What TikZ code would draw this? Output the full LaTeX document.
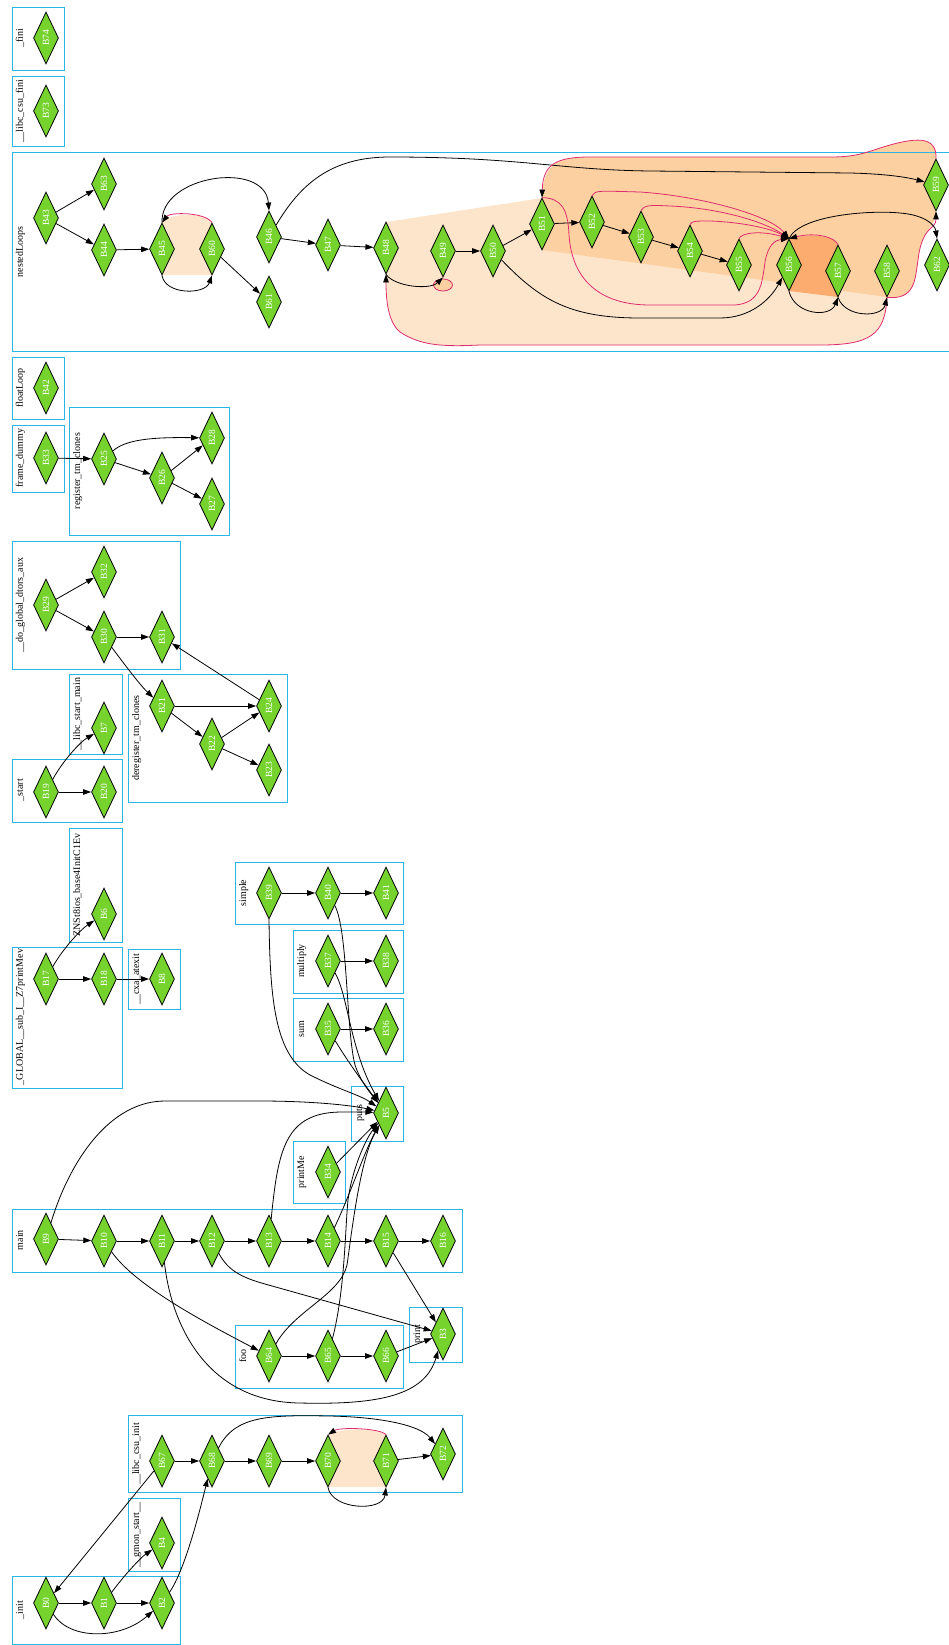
\documentclass[tikz,border=0pt]{standalone}
\usepackage{fontspec}
\setmainfont{Liberation Serif}
\usetikzlibrary{shapes.geometric,arrows.meta}
\definecolor{nodegreen}{RGB}{118,211,46}
\definecolor{clusblue}{RGB}{41,182,230}
\definecolor{crim}{RGB}{222,44,110}
\definecolor{lightfill}{RGB}{253,229,204}
\definecolor{medfill}{RGB}{252,208,160}
\definecolor{darkfill}{RGB}{251,172,110}
\tikzset{
  bb/.style={diamond, draw=black, line width=0.8pt, fill=nodegreen, minimum width=25pt, minimum height=52pt, inner sep=0pt, text=white, font=\fontsize{9.5}{9.5}\selectfont},
  clus/.style={draw=clusblue, line width=0.9pt},
  clab/.style={rotate=90, anchor=base, inner sep=0pt, font=\fontsize{10}{10}\selectfont},
  edge/.style={draw=black, line width=0.8pt, -{Triangle[length=8pt,width=5.5pt]}},
  back/.style={draw=crim, line width=0.8pt, -{Triangle[length=8pt,width=5.5pt,color=black]}},
}
\newcommand\mkbb[3]{\node[bb] (#1) at (#2,#3) {\rotatebox{90}{#1}};}
\newcommand\mkcl[7]{\draw[clus] (#2,#3) rectangle (#4,#5); \node[clab] (#1) at ({#2+11},#6) {#7};}
\begin{document}
\begin{tikzpicture}[x=1pt,y=-1pt]
\useasboundingbox (0,0) rectangle (948,1645);
% ---------- loop fills ----------
\fill[lightfill] (386,222) -- (542,198) -- (887,297) .. controls (885,335) and (870,345) .. (820,345) -- (480,345) .. controls (440,347) and (420,345) .. (400,332) .. controls (388,322) and (386,300) .. (386,274) -- cycle;
\fill[medfill] (542,198) .. controls (543,165) and (555,157) .. (590,157) -- (830,157) .. controls (850,157) and (860,155) .. (880,148) .. controls (915,137) and (937,135) .. (936,159) -- (936,211) .. controls (936,230) and (922,225) .. (918,260) .. controls (915,280) and (915,300) .. (887,297) -- (542,250) -- cycle;
\fill[darkfill] (789,239) .. controls (815,232) and (835,237) .. (838,245) -- (838,297) -- (789,291) -- cycle;
\fill[lightfill] (162,223) .. controls (170,212) and (205,212) .. (212,223) -- (212,275) -- (162,275) -- cycle;
\fill[lightfill] (328,1435) .. controls (340,1427) and (380,1428) .. (386,1435) -- (386,1487) -- (328,1487) -- cycle;
\draw[crim, line width=0.8pt, fill=medfill] (443,285) ellipse [x radius=9.5pt, y radius=6pt];
% ---------- clusters ----------
\mkcl{L74}{12}{7}{64}{70}{38}{\_fini}
\mkcl{L73}{12}{76}{64}{146}{111}{\_\_libc\_csu\_fini}
\mkcl{Lnl}{12}{152}{970}{351}{252}{nestedLoops}
\mkcl{Lfl}{12}{357}{64}{419}{388}{floatLoop}
\mkcl{Lfd}{12}{425}{64}{492}{458}{frame\_dummy}
\mkcl{Lrt}{69}{407}{229}{535}{471}{register\_tm\_clones}
\mkcl{Ldg}{12}{541}{180}{669}{605}{\_\_do\_global\_dtors\_aux}
\mkcl{Lls}{69}{674}{122}{754}{714}{\_\_libc\_start\_main}
\mkcl{Ldt}{128}{674}{287}{802}{738}{deregister\_tm\_clones}
\mkcl{Lst}{12}{759}{122}{822}{790}{\_start}
\mkcl{Lzn}{69}{828}{122}{942}{885}{ZNSt8ios\_base4InitC1Ev}
\mkcl{Lgl}{12}{947}{122}{1088}{1017}{\_GLOBAL\_\_sub\_I\_\_Z7printMev}
\mkcl{Lcx}{128}{949}{180}{1009}{979}{\_\_cxa\_atexit}
\mkcl{Lsi}{235}{862}{403}{924}{893}{simple}
\mkcl{Lmu}{293}{930}{403}{993}{961}{multiply}
\mkcl{Lsu}{293}{998}{403}{1061}{1029}{sum}
\mkcl{Lpu}{351}{1086}{403}{1141}{1113}{puts}
\mkcl{Lpm}{293}{1141}{345}{1203}{1172}{printMe}
\mkcl{Lma}{12}{1209}{462}{1272}{1240}{main}
\mkcl{Lpr}{409}{1307}{462}{1362}{1334}{print}
\mkcl{Lfo}{235}{1325}{403}{1388}{1356}{foo}
\mkcl{Lci}{128}{1415}{462}{1492}{1454}{\_\_libc\_csu\_init}
\mkcl{Lgm}{128}{1498}{180}{1571}{1535}{\_\_gmon\_start\_\_}
\mkcl{Lin}{12}{1576}{180}{1644}{1610}{\_init}
% ---------- nodes ----------
\mkbb{B74}{46}{38}
\mkbb{B73}{46}{111}
\mkbb{B43}{46}{218}
\mkbb{B63}{104}{184}
\mkbb{B44}{104}{250}
\mkbb{B45}{162}{249}
\mkbb{B60}{212}{249}
\mkbb{B46}{269}{237}
\mkbb{B61}{269}{302}
\mkbb{B47}{328}{245}
\mkbb{B48}{386}{248}
\mkbb{B49}{443}{251}
\mkbb{B50}{493}{251}
\mkbb{B51}{542}{224}
\mkbb{B52}{592}{222}
\mkbb{B53}{641}{237}
\mkbb{B54}{690}{251}
\mkbb{B55}{739}{265}
\mkbb{B56}{789}{265}
\mkbb{B57}{838}{271}
\mkbb{B58}{887}{271}
\mkbb{B59}{936}{185}
\mkbb{B62}{937}{265}
\mkbb{B42}{46}{388}
\mkbb{B33}{46}{458}
\mkbb{B25}{104}{459}
\mkbb{B26}{162}{478}
\mkbb{B28}{212}{438}
\mkbb{B27}{212}{504}
\mkbb{B29}{46}{605}
\mkbb{B32}{104}{572}
\mkbb{B30}{104}{637}
\mkbb{B31}{162}{637}
\mkbb{B7}{104}{728}
\mkbb{B21}{162}{706}
\mkbb{B22}{212}{744}
\mkbb{B24}{269}{706}
\mkbb{B23}{269}{770}
\mkbb{B19}{46}{792}
\mkbb{B20}{104}{792}
\mkbb{B6}{104}{914}
\mkbb{B17}{46}{979}
\mkbb{B18}{104}{979}
\mkbb{B8}{162}{979}
\mkbb{B39}{269}{893}
\mkbb{B40}{328}{893}
\mkbb{B41}{386}{893}
\mkbb{B37}{328}{961}
\mkbb{B38}{386}{961}
\mkbb{B35}{328}{1029}
\mkbb{B36}{386}{1029}
\mkbb{B5}{386}{1113}
\mkbb{B34}{328}{1172}
\mkbb{B9}{46}{1239}
\mkbb{B10}{104}{1241}
\mkbb{B11}{162}{1241}
\mkbb{B12}{212}{1241}
\mkbb{B13}{269}{1241}
\mkbb{B14}{328}{1241}
\mkbb{B15}{386}{1241}
\mkbb{B16}{443}{1241}
\mkbb{B3}{443}{1334}
\mkbb{B64}{269}{1356}
\mkbb{B65}{328}{1356}
\mkbb{B66}{386}{1356}
\mkbb{B67}{162}{1461}
\mkbb{B68}{212}{1461}
\mkbb{B69}{269}{1461}
\mkbb{B70}{328}{1461}
\mkbb{B71}{386}{1461}
\mkbb{B72}{443}{1454}
\mkbb{B4}{162}{1543}
\mkbb{B0}{46}{1603}
\mkbb{B1}{104}{1603}
\mkbb{B2}{162}{1603}
% ---------- straight edges ----------
\foreach \a/\b in {B43/B63,B43/B44,B44/B45,B60/B61,B46/B47,B47/B48,B49/B50,B50/B51,B51/B52,B52/B53,B53/B54,B54/B55,
  B33/B25,B25/B26,B26/B28,B26/B27,
  B29/B32,B29/B30,B30/B31,B21/B24,B21/B22,B22/B24,B22/B23,B24/B31,
  B19/B20,B17/B18,B18/B8,
  B39/B40,B40/B41,B37/B38,B35/B36,B34/B5,
  B9/B10,B10/B11,B11/B12,B12/B13,B13/B14,B14/B15,B15/B16,B15/B3,B66/B3,B64/B65,B65/B66,
  B67/B68,B68/B69,B69/B70,B71/B72,B0/B1,B1/B2,B67/B0}
  \draw[edge] (\a) -- (\b);
% ---------- nestedLoops curves ----------
\draw[edge] (B45.north) .. controls (160,175) and (265,160) .. (B46.north);
\draw[back] (B60.north) .. controls (205,212) and (170,212) .. (B45.north);
\draw[edge] (B45.south) .. controls (165,295) and (205,295) .. (B60.south);
\draw[edge] (B46) .. controls (300,185) and (330,157) .. (390,157) .. controls (520,157) and (560,170) .. (650,171) -- (850,173) .. controls (890,174) and (910,178) .. (B59);
\draw[back] (B59.north) .. controls (937,135) and (915,137) .. (880,148) .. controls (860,155) and (850,157) .. (830,157) -- (590,157) .. controls (555,157) and (543,165) .. (B51.north);
\draw[back] (B58.south) .. controls (915,300) and (915,280) .. (918,260) .. controls (922,225) and (936,230) .. (B59.south);
\draw[back] (B58.south) .. controls (885,335) and (870,345) .. (820,345) -- (480,345) .. controls (440,347) and (420,345) .. (400,332) .. controls (388,322) and (386,300) .. (B48.south);
\draw[edge] (B48.south) .. controls (395,287) and (430,290) .. (B49.south);
\draw[edge] (B50) .. controls (540,300) and (570,318) .. (640,318) -- (720,318) .. controls (750,318) and (770,300) .. (B56);
\draw[back] (B51.north) .. controls (562,198) and (568,210) .. (569,235) .. controls (572,280) and (600,305) .. (650,305) -- (735,305) .. controls (760,303) and (762,285) .. (765,262) .. controls (768,245) and (775,240) .. (B56.north);
\draw[back] (B52.north) .. controls (595,190) and (600,191) .. (640,192) .. controls (700,196) and (770,215) .. (B56.north);
\draw[back] (B53.north) .. controls (644,205) and (650,205) .. (670,206) .. controls (720,208) and (765,222) .. (B56.north);
\draw[back] (B54.north) .. controls (692,221) and (695,221) .. (710,221) .. controls (740,222) and (770,228) .. (B56.north);
\draw[back] (B55.north) .. controls (741,233) and (760,230) .. (B56.north);
\draw[back] (B57.north) .. controls (835,237) and (815,232) .. (B56.north);
\draw[edge] (B56.south) .. controls (795,315) and (830,318) .. (B57.south);
\draw[edge] (B57.south) .. controls (845,318) and (882,318) .. (B58.south);
\draw[edge] (B56.north) .. controls (800,215) and (870,210) .. (900,213) .. controls (925,215) and (935,225) .. (B62.north);
% ---------- other curves ----------
\draw[edge] (B25) .. controls (125,440) and (150,437) .. (B28);
\draw[edge] (B30) .. controls (125,665) and (140,685) .. (B21);
\draw[edge] (B19) .. controls (62,762) and (80,742) .. (B7);
\draw[edge] (B17) .. controls (62,950) and (80,930) .. (B6);
\draw[edge] (B39.south) .. controls (270,1000) and (275,1055) .. (310,1075) .. controls (340,1090) and (360,1095) .. (B5);
\draw[edge] (B40) .. controls (348,930) and (346,1030) .. (355,1065) .. controls (360,1080) and (368,1090) .. (B5);
\draw[edge] (B37) .. controls (348,995) and (350,1050) .. (B5);
\draw[edge] (B35) .. controls (350,1065) and (365,1085) .. (B5);
\draw[edge] (B9) .. controls (70,1160) and (110,1101) .. (165,1101) -- (260,1101) .. controls (310,1101) and (350,1105) .. (B5);
\draw[edge] (B13) .. controls (278,1150) and (285,1113) .. (340,1112) .. controls (355,1112) and (365,1112) .. (B5);
\draw[edge] (B14) .. controls (350,1195) and (365,1150) .. (B5);
\draw[edge] (B65) .. controls (345,1290) and (345,1230) .. (348,1200) .. controls (352,1170) and (365,1140) .. (B5);
\draw[edge] (B64) .. controls (295,1310) and (340,1295) .. (347,1265) .. controls (352,1230) and (360,1160) .. (B5);
\draw[edge] (B10) .. controls (135,1285) and (200,1320) .. (B64);
\draw[edge] (B11) .. controls (172,1330) and (210,1402) .. (300,1403) .. controls (380,1405) and (425,1395) .. (B3);
\draw[edge] (B12) .. controls (228,1270) and (240,1277) .. (265,1284) -- (B3);
\draw[edge] (B68) .. controls (235,1415) and (270,1415) .. (330,1416) .. controls (380,1417) and (420,1425) .. (B72);
\draw[back] (B71.north) .. controls (380,1428) and (340,1427) .. (B70.north);
\draw[edge] (B70.south) .. controls (332,1510) and (383,1512) .. (B71.south);
\draw[edge] (B0) .. controls (70,1640) and (120,1640) .. (B2);
\draw[edge] (B1) .. controls (122,1578) and (140,1558) .. (B4);
\draw[edge] (B2) .. controls (185,1570) and (200,1510) .. (B68);
\end{tikzpicture}
\end{document}
